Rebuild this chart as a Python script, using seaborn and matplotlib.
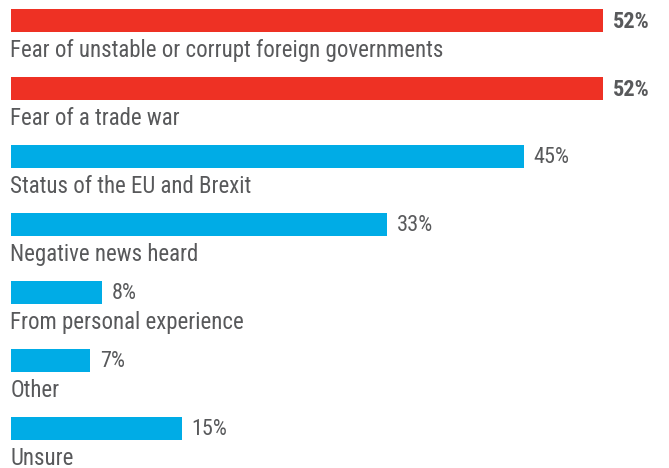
import matplotlib
matplotlib.use("Agg")
import matplotlib.pyplot as plt
import seaborn as sns
import pandas as pd

categories = [
    "Fear of unstable or corrupt foreign governments",
    "Fear of a trade war",
    "Status of the EU and Brexit",
    "Negative news heard",
    "From personal experience",
    "Other",
    "Unsure",
]
values = [52, 52, 45, 33, 8, 7, 15]
groups = ["top", "top", "other", "other", "other", "other", "other"]

palette = {"top": "#EE3124", "other": "#00ACE6"}
text_color = "#58595B"

sns.set_theme(style="white")
plt.rcParams["font.family"] = ["Roboto Condensed", "DejaVu Sans"]
plt.rcParams["font.stretch"] = "condensed"

df = pd.DataFrame({"category": categories, "value": values, "group": groups})

fig = plt.figure(figsize=(6.69, 4.68), dpi=100)
ax = fig.add_axes([0, 0, 1, 1])
sns.barplot(data=df, x="value", y="category", hue="group", palette=palette,
            orient="h", width=0.34, dodge=False, legend=False, ax=ax,
            saturation=1, linewidth=0)

for i, (cat, val, grp) in enumerate(zip(categories, values, groups)):
    ax.text(val + 0.85, i + 0.02, f"{val}%", va="center", ha="left",
            fontsize=16, color=text_color,
            fontweight="bold" if grp == "top" else "normal")
    ax.text(0, i + 0.53, cat, va="baseline", ha="left",
            fontsize=16.5, color=text_color)

ax.set_xlim(-10.5 / 11.4, 658.5 / 11.4)
ax.set_ylim(447.5 / 68, -20.5 / 68)
ax.set_axis_off()

fig.savefig("out.png", dpi=100)
